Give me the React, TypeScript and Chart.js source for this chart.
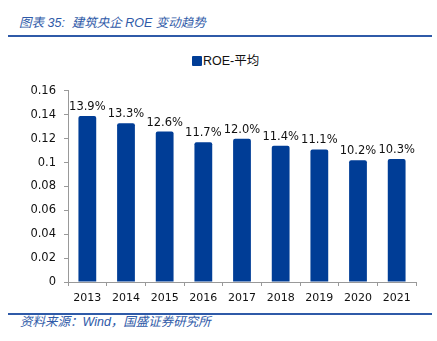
import React, { useEffect, useRef } from "react";
import { Chart, registerables } from "chart.js";

Chart.register(...registerables);

const categories = ["2013", "2014", "2015", "2016", "2017", "2018", "2019", "2020", "2021"];
const roeValues = [0.139, 0.133, 0.126, 0.117, 0.12, 0.114, 0.111, 0.102, 0.103];
const roeLabels = ["13.9%", "13.3%", "12.6%", "11.7%", "12.0%", "11.4%", "11.1%", "10.2%", "10.3%"];
const seriesName = "ROE-平均";
const titleText = "图表 35:  建筑央企 ROE 变动趋势";
const sourceText = "资料来源：Wind，国盛证券研究所";

const BAR_COLOR = "#003d96";
const BLUE = "#2f5aa8";
const AXIS_FONT = "'DejaVu Sans', Verdana, sans-serif";

const labelPlugin = {
  id: "barLabels",
  afterDatasetsDraw(chart: any) {
    const ctx = chart.ctx;
    const meta = chart.getDatasetMeta(0);
    ctx.save();
    ctx.font = `11.5px ${AXIS_FONT}`;
    ctx.fillStyle = "#111";
    ctx.textAlign = "center";
    ctx.textBaseline = "alphabetic";
    meta.data.forEach((bar: any, i: number) => {
      ctx.fillText(roeLabels[i], bar.x, bar.y - 6);
    });
    ctx.restore();
  },
};

export default function App() {
  const ref = useRef<HTMLCanvasElement>(null);
  useEffect(() => {
    const chart = new Chart(ref.current!, {
      type: "bar",
      data: {
        labels: categories,
        datasets: [
          {
            label: seriesName,
            data: roeValues,
            backgroundColor: BAR_COLOR,
            borderWidth: 0,
            borderRadius: 2,
            barPercentage: 0.46,
            categoryPercentage: 1,
          },
        ],
      },
      options: {
        animation: false,
        responsive: false,
        maintainAspectRatio: false,
        layout: { padding: { left: 8, right: 21, top: 6, bottom: 3 } },
        plugins: {
          legend: { display: false },
          tooltip: { enabled: false },
        },
        scales: {
          x: {
            offset: true,
            grid: {
              display: true,
              offset: true,
              drawOnChartArea: false,
              drawTicks: true,
              tickLength: 4,
              color: "#999",
            },
            border: { display: true, color: "#999", width: 1 },
            ticks: {
              color: "#111",
              font: { family: AXIS_FONT, size: 11 },
              padding: 6,
              maxRotation: 0,
            },
            afterFit: (s: any) => {
              s.height = 25;
            },
          },
          y: {
            min: 0,
            max: 0.16,
            grid: {
              display: true,
              drawOnChartArea: false,
              drawTicks: true,
              tickLength: 4,
              color: "#999",
            },
            border: { display: true, color: "#999", width: 1 },
            ticks: {
              stepSize: 0.02,
              color: "#111",
              font: { family: AXIS_FONT, size: 11.5 },
              padding: 8,
              callback: (v: any) => String(Number(Number(v).toFixed(2))),
            },
            afterFit: (s: any) => {
              s.width = 60;
            },
          },
        },
      },
      plugins: [labelPlugin],
    });
    return () => chart.destroy();
  }, []);

  return (
    <div
      style={{
        position: "absolute",
        left: 0,
        top: 0,
        width: 437,
        height: 341,
        background: "#fff",
        overflow: "hidden",
      }}
    >
      <div
        style={{
          position: "absolute",
          left: 19,
          top: 14,
          fontFamily: "'Liberation Sans', 'Noto Sans CJK SC', sans-serif",
          fontStyle: "italic",
          fontSize: 12.5,
          lineHeight: "18px",
          color: BLUE,
          whiteSpace: "pre",
        }}
      >
        {titleText}
      </div>
      <div style={{ position: "absolute", left: 8, top: 35, width: 424, height: 2, background: BLUE }} />
      <div
        style={{
          position: "absolute",
          left: 192,
          top: 52,
          display: "flex",
          alignItems: "center",
          fontFamily: "'Liberation Sans', 'Noto Sans CJK SC', sans-serif",
          fontSize: 12.5,
          lineHeight: "18px",
          color: "#111",
        }}
      >
        <span style={{ display: "inline-block", width: 10, height: 10, background: BAR_COLOR, borderRadius: 1, marginRight: 1 }} />
        <span>{seriesName}</span>
      </div>
      <canvas
        ref={ref}
        width={437}
        height={234}
        style={{ position: "absolute", left: 0, top: 76, width: 437, height: 234 }}
      />
      <div style={{ position: "absolute", left: 8, top: 313, width: 424, height: 2, background: BLUE }} />
      <div
        style={{
          position: "absolute",
          left: 20,
          top: 314,
          fontFamily: "'Liberation Sans', 'Noto Sans CJK SC', sans-serif",
          fontStyle: "italic",
          fontSize: 12.5,
          lineHeight: "17px",
          color: BLUE,
          whiteSpace: "pre",
        }}
      >
        {sourceText}
      </div>
    </div>
  );
}
